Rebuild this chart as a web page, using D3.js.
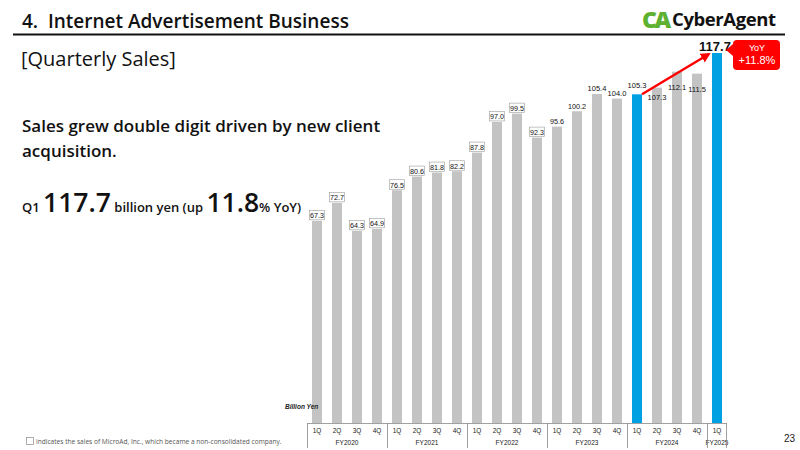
<!DOCTYPE html>
<html lang="en">
  <head>
    <meta charset="UTF-8" />
    <title>Internet Advertisement Business - Quarterly Sales</title>
    <script src="https://cdnjs.cloudflare.com/ajax/libs/d3/7.8.5/d3.min.js"></script>
    <style>
      body {
        margin: 0;
        background: #fff;
        font-family: "Open Sans", Lato, sans-serif;
      }
    </style>
  </head>
  <body>
    <div id="chart"></div>
    <script>
      // Data
      const quarters = ["1Q", "2Q", "3Q", "4Q", "1Q", "2Q", "3Q", "4Q", "1Q", "2Q", "3Q", "4Q",
        "1Q", "2Q", "3Q", "4Q", "1Q", "2Q", "3Q", "4Q", "1Q"];
      const fiscalYears = ["FY2020", "FY2021", "FY2022", "FY2023", "FY2024", "FY2025"];
      const sales = [67.3, 72.7, 64.3, 64.9, 76.5, 80.6, 81.8, 82.2, 87.8, 97.0, 99.5, 92.3,
        95.6, 100.2, 105.4, 104.0, 105.3, 107.3, 112.1, 111.5, 117.7];
      const microAdIncluded = [true, true, true, true, true, true, true, true, true, true, true, true,
        false, false, false, false, false, false, false, false, false];
      const highlighted = [16, 20];

      const width = 800;
      const height = 450;

      const svg = d3
        .select("#chart")
        .append("svg")
        .attr("width", width)
        .attr("height", height);

      // Header
      svg.append("text")
        .attr("x", 22).attr("y", 28)
        .attr("font-size", 19).attr("font-weight", 600)
        .attr("fill", "#111")
        .text("4.\u00a0 Internet Advertisement Business");
      svg.append("line")
        .attr("x1", 13).attr("x2", 785)
        .attr("y1", 34.5).attr("y2", 34.5)
        .attr("stroke", "#111").attr("stroke-width", 2);
      svg.append("text")
        .attr("x", 21).attr("y", 66)
        .attr("font-size", 20).attr("font-weight", 500)
        .attr("fill", "#111")
        .text("[Quarterly Sales]");

      // Logo
      svg.append("text")
        .attr("x", 642).attr("y", 28)
        .attr("font-size", 23).attr("font-weight", 800)
        .attr("fill", "#5db12f")
        .attr("letter-spacing", -2.5)
        .text("CA");
      svg.append("text")
        .attr("x", 672).attr("y", 26)
        .attr("font-size", 18.5).attr("font-weight", 700)
        .attr("letter-spacing", -0.4)
        .attr("fill", "#111")
        .text("CyberAgent");

      // Left text
      const lead = svg.append("text")
        .attr("font-size", 17).attr("font-weight", 600)
        .attr("fill", "#111");
      lead.append("tspan").attr("x", 22).attr("y", 132)
        .text("Sales grew double digit driven by new client");
      lead.append("tspan").attr("x", 22).attr("y", 157)
        .text("acquisition.");

      const q1 = svg.append("text")
        .attr("x", 22).attr("y", 212)
        .attr("fill", "#111").attr("font-weight", 600);
      q1.append("tspan").attr("font-size", 13).text("Q1 ");
      q1.append("tspan").attr("font-size", 26.5).text("117.7");
      q1.append("tspan").attr("font-size", 13).text(" billion yen (up ");
      q1.append("tspan").attr("font-size", 26.5).text("11.8");
      q1.append("tspan").attr("font-size", 13).text("% YoY)");

      // Scales
      const axisY = 423;
      const x = d3
        .scaleBand()
        .domain(d3.range(sales.length))
        .range([307, 727])
        .paddingInner(0.5)
        .paddingOuter(0.25);
      const y = d3.scaleLinear().domain([6.6, 117.7]).range([axisY, 53]);

      // Bars
      svg.append("g")
        .selectAll("rect")
        .data(sales)
        .join("rect")
        .attr("x", (d, i) => x(i))
        .attr("y", (d) => y(d))
        .attr("width", x.bandwidth())
        .attr("height", (d) => axisY - y(d))
        .attr("fill", (d, i) => (highlighted.includes(i) ? "#00a0e3" : "#c3c3c3"));

      // Value labels
      const labels = svg.append("g").attr("font-family", "Liberation Sans, Arial, sans-serif");
      sales.forEach((d, i) => {
        if (i === sales.length - 1) return;
        const cx = x(i) + x.bandwidth() / 2;
        const inside = i >= 17 && i <= 19;
        let ly = inside ? y(d) + (i === 17 ? 12 : 18) : y(d) - 2.5;
        if (i === 16) ly = y(d) - 6;
        const fs = i >= 14 ? 7.5 : 7.2;
        if (microAdIncluded[i]) {
          labels.append("rect")
            .attr("x", cx - 7.5).attr("y", ly - 8)
            .attr("width", 15).attr("height", 9.5)
            .attr("fill", "#fff")
            .attr("stroke", "#9a9a9a").attr("stroke-width", 0.6);
        }
        labels.append("text")
          .attr("x", cx).attr("y", ly)
          .attr("text-anchor", "middle")
          .attr("font-size", fs)
          .attr("fill", "#111")
          .text(d.toFixed(1));
      });

      // Last quarter big label
      const lastX = x(sales.length - 1) + x.bandwidth() / 2;
      svg.append("text")
        .attr("x", lastX - 2).attr("y", y(sales[sales.length - 1]) - 2)
        .attr("text-anchor", "middle")
        .attr("font-size", 13).attr("font-weight", "bold")
        .attr("font-family", "Liberation Sans, Arial, sans-serif")
        .attr("fill", "#111")
        .text(sales[sales.length - 1].toFixed(1));

      // Red YoY arrow
      const defs = svg.append("defs");
      defs.append("marker")
        .attr("id", "arrow")
        .attr("viewBox", "0 0 10 10")
        .attr("refX", 8).attr("refY", 5)
        .attr("markerWidth", 4).attr("markerHeight", 4)
        .attr("orient", "auto")
        .append("path")
        .attr("d", "M0,0L10,5L0,10Z")
        .attr("fill", "#ff0000");
      svg.append("line")
        .attr("x1", x(16) + x.bandwidth()).attr("y1", y(sales[16]))
        .attr("x2", lastX - 8).attr("y2", y(sales[20]) + 1)
        .attr("stroke", "#ff0000").attr("stroke-width", 2.5)
        .attr("marker-end", "url(#arrow)");

      // YoY callout
      const callout = svg.append("g");
      callout.append("rect")
        .attr("x", 733).attr("y", 40)
        .attr("width", 47).attr("height", 30)
        .attr("rx", 4)
        .attr("fill", "#ff0000");
      callout.append("path")
        .attr("d", "M733,44L726,50L733,56Z")
        .attr("fill", "#ff0000");
      callout.append("text")
        .attr("x", 757).attr("y", 51)
        .attr("text-anchor", "middle")
        .attr("font-size", 9)
        .attr("font-family", "Liberation Sans, Arial, sans-serif")
        .attr("fill", "#fff")
        .text("YoY");
      callout.append("text")
        .attr("x", 757).attr("y", 64)
        .attr("text-anchor", "middle")
        .attr("font-size", 11)
        .attr("font-family", "Liberation Sans, Arial, sans-serif")
        .attr("fill", "#fff")
        .text("+11.8%");

      // Axis
      const axis = svg.append("g").attr("font-family", "Liberation Sans, Arial, sans-serif");
      axis.append("line")
        .attr("x1", 307).attr("x2", 727)
        .attr("y1", axisY + 0.5).attr("y2", axisY + 0.5)
        .attr("stroke", "#888").attr("stroke-width", 0.8);
      axis.selectAll("text.q")
        .data(quarters)
        .join("text")
        .attr("class", "q")
        .attr("x", (d, i) => x(i) + x.bandwidth() / 2)
        .attr("y", axisY + 10)
        .attr("text-anchor", "middle")
        .attr("font-size", 6.5)
        .attr("fill", "#222")
        .text((d) => d);
      const step = x.step();
      fiscalYears.forEach((fy, g) => {
        const first = g * 4;
        const last = Math.min(first + 3, sales.length - 1);
        const left = x(first) - x.paddingOuter() * step;
        const right = x(last) + x.bandwidth() + x.paddingOuter() * step;
        axis.append("text")
          .attr("x", (left + right) / 2)
          .attr("y", axisY + 22)
          .attr("text-anchor", "middle")
          .attr("font-size", 6.5)
          .attr("fill", "#222")
          .text(fy);
        axis.append("line")
          .attr("x1", left + 0.5).attr("x2", left + 0.5)
          .attr("y1", axisY).attr("y2", axisY + 25)
          .attr("stroke", "#888").attr("stroke-width", 0.8);
        if (g === fiscalYears.length - 1) {
          axis.append("line")
            .attr("x1", right - 0.5).attr("x2", right - 0.5)
            .attr("y1", axisY).attr("y2", axisY + 25)
            .attr("stroke", "#888").attr("stroke-width", 0.8);
        }
      });

      svg.append("text")
        .attr("x", 285).attr("y", 409)
        .attr("font-size", 6.5).attr("font-style", "italic").attr("font-weight", "bold")
        .attr("font-family", "Liberation Sans, Arial, sans-serif")
        .attr("fill", "#222")
        .text("Billion Yen");

      // Footnote
      svg.append("rect")
        .attr("x", 26.5).attr("y", 437.5)
        .attr("width", 7).attr("height", 7)
        .attr("fill", "#fff")
        .attr("stroke", "#999").attr("stroke-width", 0.8);
      svg.append("text")
        .attr("x", 36).attr("y", 444)
        .attr("font-size", 6.6)
        .attr("fill", "#555")
        .text("indicates the sales of MicroAd, Inc., which became a non-consolidated company.");

      // Page number
      svg.append("text")
        .attr("x", 784).attr("y", 442)
        .attr("font-size", 10)
        .attr("font-family", "Liberation Sans, Arial, sans-serif")
        .attr("fill", "#222")
        .text("23");
    </script>
  </body>
</html>
